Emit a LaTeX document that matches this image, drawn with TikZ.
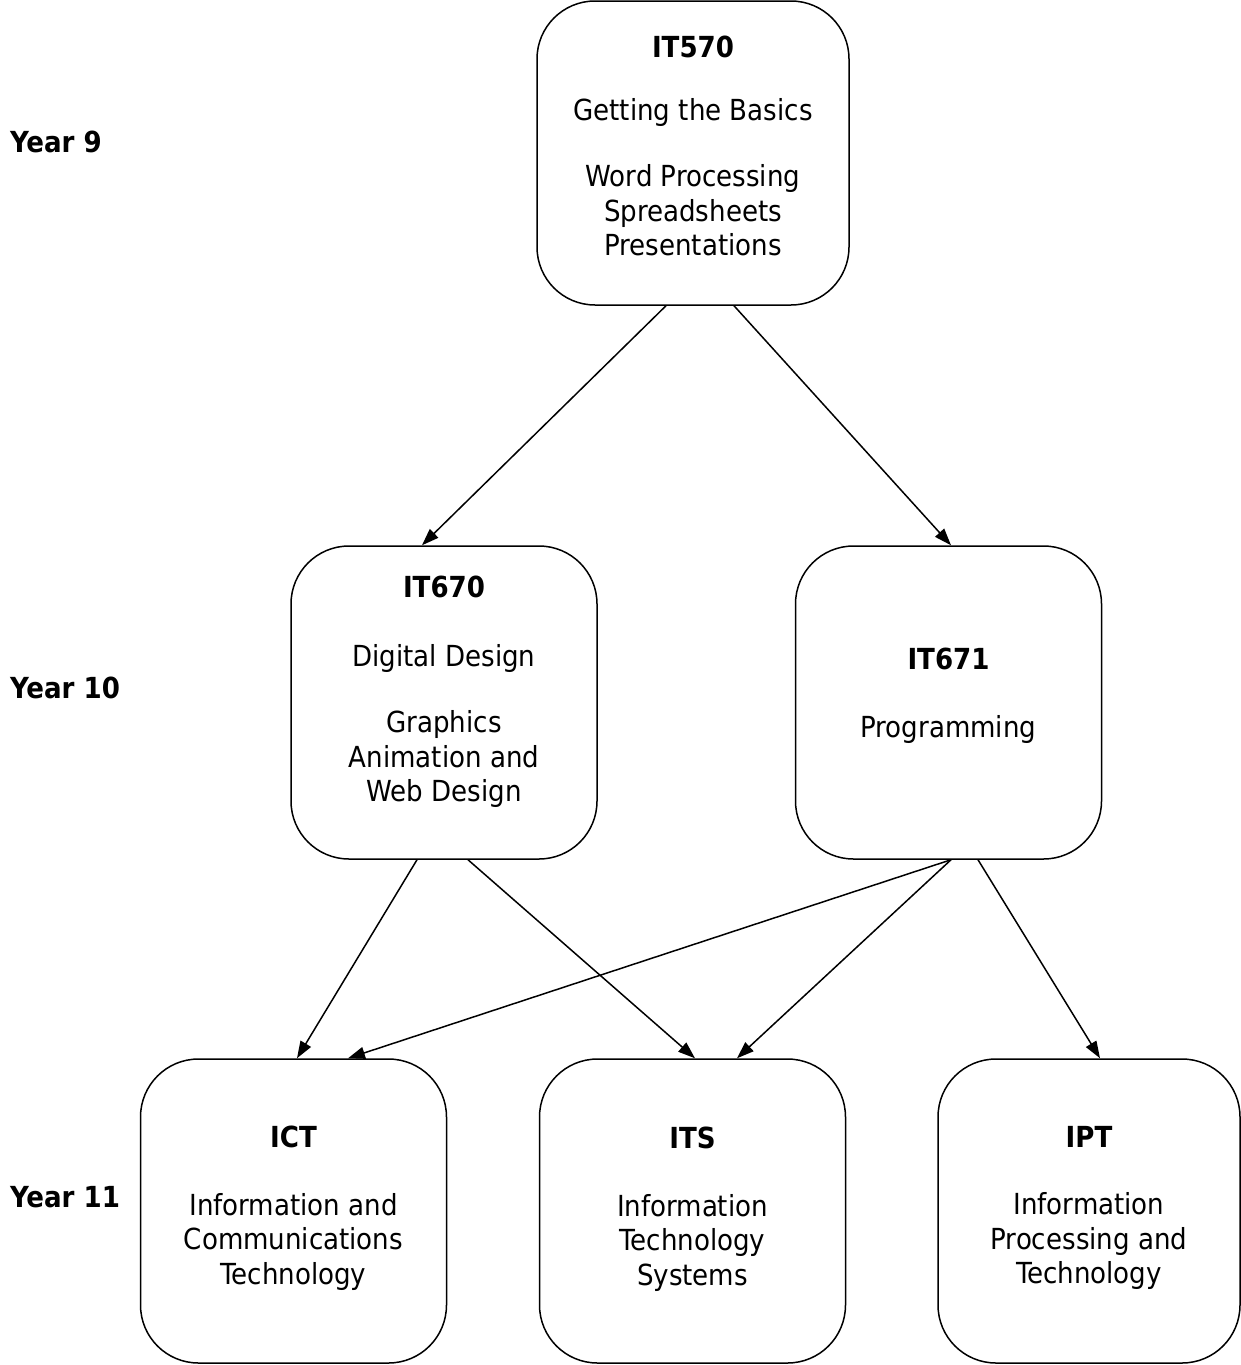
\documentclass[tikz,border=0pt]{standalone}
\usepackage{fontspec}
\setmainfont{DejaVu Sans Condensed}
\usetikzlibrary{arrows.meta,calc}
\begin{document}
\begin{tikzpicture}[x=1pt,y=-1pt,
  box/.style={draw,line width=1.5pt,rounded corners=58pt,minimum width=#1,inner sep=0pt},
  box/.default=306pt,
  txt/.style={inner sep=0pt,align=center,font=\fontsize{29}{34.5}\selectfont},
  yearlbl/.style={anchor=west,inner sep=0pt,font=\fontsize{29}{34}\selectfont\bfseries},
  conn/.style={line width=1.5pt,-{Triangle[length=17pt,width=12pt]}}]
\useasboundingbox (0,0) rectangle (1240,1365);
\node[box=312pt,minimum height=304pt] (a) at (693,153) {};
\node[box,minimum height=313pt] (b) at (444,702.5) {};
\node[box,minimum height=313pt] (c) at (948.5,702.5) {};
\node[box,minimum height=304pt] (d) at (293.5,1211) {};
\node[box,minimum height=304pt] (e) at (692.5,1211) {};
\node[box=302pt,minimum height=304pt] (f) at (1089,1211) {};
\node[txt] (ta) at (693,146) {\textbf{IT570}\\[28pt]Getting the Basics\\[32pt]Word Processing\\Spreadsheets\\Presentations};
\node[txt] (tb) at (444,692) {\textbf{IT670}\\[34pt]Digital Design\\[32pt]Graphics\\Animation and\\Web Design};
\node[txt] (tc) at (948.5,696) {\textbf{IT671}\\[34pt]Programming};
\node[txt] (td) at (293.5,1208) {\textbf{ICT}\\[33pt]Information and\\Communications\\Technology};
\node[txt] (te) at (692.5,1209) {\textbf{ITS}\\[33pt]Information\\Technology\\Systems};
\node[txt] (tf) at (1089,1208) {\textbf{IPT}\\[33pt]Information\\Processing and\\Technology};
\node[yearlbl] (y9) at (10,142) {Year 9};
\node[yearlbl] (y10) at (10,688) {Year 10};
\node[yearlbl] (y11) at (10,1197) {Year 11};
\draw[conn] ([xshift=-27pt]a.south) -- ([xshift=-22pt]b.north);
\draw[conn] ([xshift=41pt]a.south) -- ([xshift=2.5pt]c.north);
\draw[conn] ([xshift=-27pt]b.south) -- ([xshift=3.5pt]d.north);
\draw[conn] ([xshift=24pt]b.south) -- ([xshift=2.5pt]e.north);
\draw[conn] ([xshift=2.5pt]c.south) -- ([xshift=54.5pt]d.north);
\draw[conn] ([xshift=2.5pt]c.south) -- ([xshift=44.5pt]e.north);
\draw[conn] ([xshift=29.5pt]c.south) -- ([xshift=11pt]f.north);
\end{tikzpicture}
\end{document}
